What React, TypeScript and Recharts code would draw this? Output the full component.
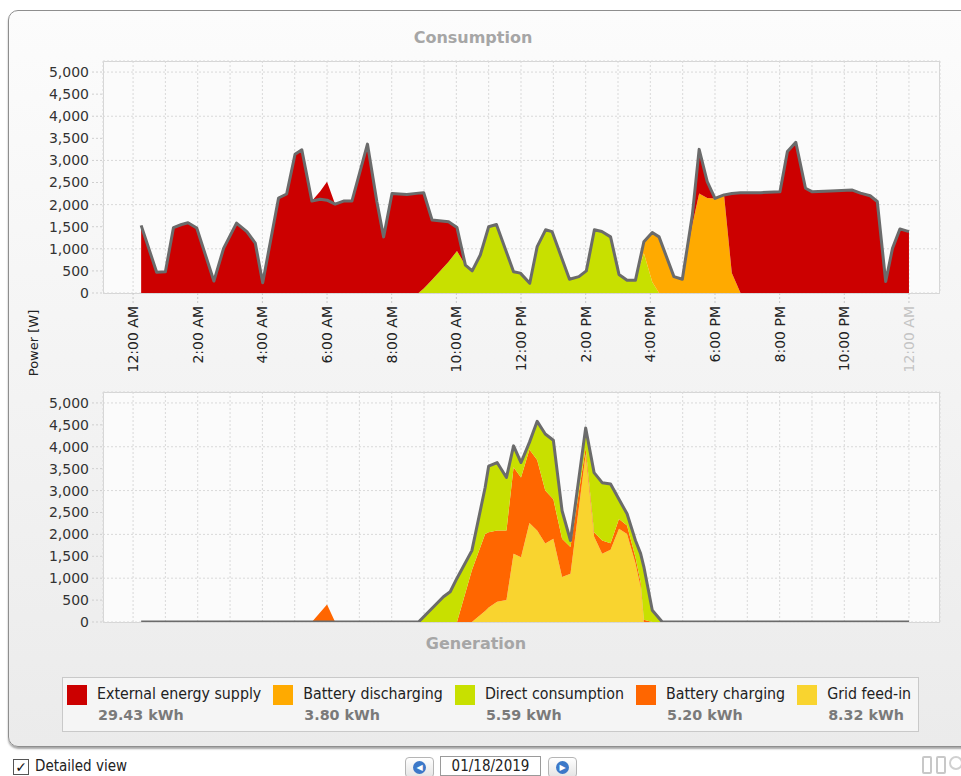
import { ComposedChart, Area, Line, XAxis, YAxis, CartesianGrid } from "recharts";

// hours of day and watt values
const consHour = [
  0.25, 0.73, 1.0, 1.25, 1.5, 1.7, 1.97, 2.5, 2.8, 3.2, 3.52, 3.78, 4.01, 4.5, 4.75, 5.01, 5.22,
  5.53, 5.79, 6.0, 6.25, 6.51, 6.77, 7.25, 7.54, 7.75, 8.01, 8.47, 8.83, 8.99, 9.25, 9.76, 10.02,
  10.28, 10.49, 10.74, 11.0, 11.24, 11.77, 11.98, 12.27, 12.5, 12.76, 12.96, 13.5, 13.79, 14.02,
  14.27, 14.5, 14.77, 15.03, 15.28, 15.54, 15.8, 16.06, 16.27, 16.73, 16.99, 17.3, 17.51, 17.76,
  18.0, 18.28, 18.52, 18.79, 19.41, 20.01, 20.24, 20.5, 20.8, 21.01, 21.58, 22.25, 22.5, 22.8,
  23.02, 23.28, 23.49, 23.72, 24.0,
];
const consTotal = [
  1530, 470, 480, 1480, 1550, 1590, 1470, 270, 1010, 1580, 1390, 1130, 230, 2150, 2240, 3140, 3240,
  2080, 2120, 2100, 2010, 2080, 2080, 3370, 2070, 1270, 2250, 2230, 2260, 2270, 1650, 1610, 1480,
  630, 500, 860, 1500, 1550, 480, 450, 220, 1050, 1430, 1390, 310, 370, 500,
  1430, 1390, 1270, 420, 290, 290, 1160, 1370, 1270, 370, 310, 1770, 3250, 2520,
  2140, 2220, 2250, 2270, 2270, 2290, 3200, 3410, 2370, 2290, 2310, 2330, 2260, 2200,
  2070, 260, 1010, 1450, 1390,
];
const consDirect = [
  0, 0, 0, 0, 0, 0, 0, 0, 0, 0, 0, 0, 0, 0, 0, 0, 0,
  0, 0, 0, 0, 0, 0, 0, 0, 0, 0, 0, 0, 100, 300, 710, 950,
  630, 500, 860, 1500, 1550, 480, 450, 220, 1050, 1430, 1390, 310, 370, 500,
  1430, 1390, 1270, 420, 290, 290, 900, 250, 0, 0, 0, 0, 0, 0,
  0, 0, 0, 0, 0, 0, 0, 0, 0, 0, 0, 0, 0, 0,
  0, 0, 0, 0, 0,
];
const consDischarge = [
  0, 0, 0, 0, 0, 0, 0, 0, 0, 0, 0, 0, 0, 0, 0, 0, 0,
  0, 0, 0, 0, 0, 0, 0, 0, 0, 0, 0, 0, 0, 0, 0, 0,
  0, 0, 0, 0, 0, 0, 0, 0, 0, 0, 0, 0, 0, 0,
  0, 0, 0, 0, 0, 0, 260, 1120, 1270, 370, 310, 1550, 2250, 2150,
  2140, 2220, 450, 0, 0, 0, 0, 0, 0, 0, 0, 0, 0, 0,
  0, 0, 0, 0, 0,
];
const consExternal = [
  1530, 470, 480, 1480, 1550, 1590, 1470, 270, 1010, 1580, 1390, 1130, 230, 2150, 2240, 3140, 3240,
  2080, 2300, 2520, 2010, 2080, 2080, 3370, 2070, 1270, 2250, 2230, 2260, 2170, 1350, 900, 530,
  0, 0, 0, 0, 0, 0, 0, 0, 0, 0, 0, 0, 0, 0,
  0, 0, 0, 0, 0, 0, 0, 0, 0, 0, 0, 220, 1000, 370,
  0, 0, 1800, 2270, 2270, 2290, 3200, 3410, 2370, 2290, 2310, 2330, 2260, 2200,
  2070, 260, 1010, 1450, 1390,
];

// generation chart
const genHour = [
  0.25, 5.53, 6.0, 6.25, 8.83, 9.6, 9.81, 10.02, 10.48, 10.89, 11.0, 11.26, 11.55, 11.77, 12.0,
  12.26, 12.5, 12.75, 13.0, 13.27, 13.53, 14.0, 14.26, 14.51, 14.77, 15.03, 15.28, 15.54, 15.7,
  15.8, 16.06, 16.37, 24.0,
];
const genTotal = [
  0, 0, 0, 0, 0, 575, 690, 1000, 1630, 3070, 3560, 3640, 3300, 4020, 3640,
  4100, 4580, 4290, 4150, 2540, 1860, 4430, 3410, 3180, 3150, 2800, 2470, 1860, 1560,
  1260, 270, 0, 0,
];
const genDirect = [
  0, 0, 0, 0, 0, 575, 690, 1000, 450, 1060, 1510, 1550, 1210, 490, 340,
  160, 880, 1290, 1350, 640, 150, 450, 1360, 1320, 1350, 450, 270, 380, 660,
  1210, 270, 0, 0,
];
const genCharge = [
  0, 0, 400, 0, 0, 0, 0, 0, 1180, 1760, 1720, 1630, 1590, 1970, 1820,
  1680, 1610, 1210, 900, 870, 610, 150, 100, 300, 150, 220, 190, 140, 100,
  50, 0, 0, 0,
];
const genFeedIn = [
  0, 0, 0, 0, 0, 0, 0, 0, 0, 250, 330, 460, 500, 1560, 1480,
  2260, 2090, 1790, 1900, 1030, 1100, 3830, 1950, 1560, 1650, 2130, 2010, 1340, 800,
  0, 0, 0, 0,
];

const hourTicks = [0, 1, 2, 3, 4, 5, 6, 7, 8, 9, 10, 11, 12, 13, 14, 15, 16, 17, 18, 19, 20, 21, 22, 23, 24];
const timeLabels = [
  "12:00 AM", "2:00 AM", "4:00 AM", "6:00 AM", "8:00 AM", "10:00 AM", "12:00 PM",
  "2:00 PM", "4:00 PM", "6:00 PM", "8:00 PM", "10:00 PM", "12:00 AM",
];
const powerTicks = [0, 500, 1000, 1500, 2000, 2500, 3000, 3500, 4000, 4500, 5000];

const legendNames = ["External energy supply", "Battery discharging", "Direct consumption", "Battery charging", "Grid feed-in"];
const legendTotals = ["29.43 kWh", "3.80 kWh", "5.59 kWh", "5.20 kWh", "8.32 kWh"];
const legendColors = ["#cc0000", "#ffaa00", "#c8e000", "#ff6600", "#f9d42f"];

const consData = consHour.map((h, i) => ({
  h,
  total: consTotal[i],
  direct: consDirect[i],
  discharge: consDischarge[i],
  external: consExternal[i],
}));
const genData = genHour.map((h, i) => ({
  h,
  total: genTotal[i],
  direct: genDirect[i],
  charge: genCharge[i],
  feed: genFeedIn[i],
}));

const FONT = "'DejaVu Sans', Verdana, sans-serif";
const NARROW = "'DejaVu Sans Condensed', 'DejaVu Sans', sans-serif";
const X_DOMAIN: [number, number] = [-0.93, 24.96];
const Y_DOMAIN: [number, number] = [0, 5250];

function HourTick({ x, y, payload }: any) {
  const h = payload.value;
  if (h % 2 !== 0) return null;
  const ty = y + 13;
  return (
    <g>
      <line x1={x} x2={x} y1={y} y2={y + 10} stroke="#c8c8c8" strokeDasharray="2 2" />
      <text
        x={x}
        y={ty}
        dy="0.35em"
        transform={`rotate(-90 ${x} ${ty})`}
        textAnchor="end"
        fontSize={14}
        fill={h === 24 ? "#c4c4c4" : "#222"}
      >
        {timeLabels[h / 2]}
      </text>
    </g>
  );
}

function powerAxis() {
  return (
    <YAxis
      type="number"
      domain={Y_DOMAIN}
      ticks={powerTicks}
      width={103}
      axisLine={false}
      tickSize={11}
      tickMargin={3}
      tickLine={{ stroke: "#cfcfcf", strokeDasharray: "2 2" }}
      tick={{ fontSize: 14, fill: "#333" }}
      tickFormatter={(v: number) => v.toLocaleString("en-US")}
      allowDataOverflow
    />
  );
}

const plotFrame = {
  position: "absolute" as const,
  left: 103,
  width: 837,
  border: "1px solid #d6d6d6",
  background: "#fbfbfb",
  boxSizing: "border-box" as const,
};

export default function App() {
  return (
    <div
      style={{
        position: "absolute",
        left: 0,
        top: 0,
        width: 961,
        height: 776,
        overflow: "hidden",
        background: "#fff",
        fontFamily: FONT,
      }}
    >
      <div
        style={{
          position: "absolute",
          left: 8,
          top: 10,
          width: 1000,
          height: 735,
          borderRadius: 10,
          border: "1px solid #8e8e8e",
          background: "linear-gradient(#fcfcfc, #ebebeb)",
          boxShadow: "0 2px 2px rgba(0,0,0,0.35)",
        }}
      />
      <div style={{ ...plotFrame, top: 61, height: 233 }} />
      <div style={{ ...plotFrame, top: 392, height: 231 }} />

      <div style={{ position: "absolute", left: 373, top: 28, width: 200, textAlign: "center", fontSize: 16, fontWeight: "bold", color: "#a6a6a6" }}>
        Consumption
      </div>
      <div style={{ position: "absolute", left: 376, top: 634, width: 200, textAlign: "center", fontSize: 16, fontWeight: "bold", color: "#a6a6a6" }}>
        Generation
      </div>
      <div
        style={{
          position: "absolute",
          left: 33,
          top: 343,
          transform: "translate(-50%, -50%) rotate(-90deg)",
          fontSize: 13,
          color: "#222",
          whiteSpace: "nowrap",
        }}
      >
        Power [W]
      </div>

      <div style={{ position: "absolute", left: 0, top: 0 }}>
        <ComposedChart width={961} height={380} data={consData} margin={{ top: 61, right: 21, bottom: 2, left: 0 }}>
          <CartesianGrid stroke="#d9d9d9" strokeDasharray="2 2" />
          <XAxis
            dataKey="h"
            type="number"
            domain={X_DOMAIN}
            ticks={hourTicks}
            height={85}
            axisLine={false}
            tickLine={false}
            tickSize={0}
            tickMargin={0}
            tick={<HourTick />}
            interval={0}
            allowDataOverflow
          />
          {powerAxis()}
          <Area type="linear" dataKey="direct" stackId="c" fill="#c8e000" fillOpacity={1} stroke="none" isAnimationActive={false} />
          <Area type="linear" dataKey="discharge" stackId="c" fill="#ffaa00" fillOpacity={1} stroke="none" isAnimationActive={false} />
          <Area type="linear" dataKey="external" stackId="c" fill="#cc0000" fillOpacity={1} stroke="none" isAnimationActive={false} />
          <Line type="linear" dataKey="total" stroke="#6b6b6b" strokeWidth={3} dot={false} strokeLinejoin="round" isAnimationActive={false} />
        </ComposedChart>
      </div>

      <div style={{ position: "absolute", left: 0, top: 380 }}>
        <ComposedChart width={961} height={250} data={genData} margin={{ top: 12, right: 21, bottom: 8, left: 0 }}>
          <CartesianGrid stroke="#d9d9d9" strokeDasharray="2 2" />
          <XAxis dataKey="h" type="number" domain={X_DOMAIN} ticks={hourTicks} hide allowDataOverflow />
          {powerAxis()}
          <Area type="linear" dataKey="feed" stackId="g" fill="#f9d42f" fillOpacity={1} stroke="none" isAnimationActive={false} />
          <Area type="linear" dataKey="charge" stackId="g" fill="#ff6600" fillOpacity={1} stroke="none" isAnimationActive={false} />
          <Area type="linear" dataKey="direct" stackId="g" fill="#c8e000" fillOpacity={1} stroke="none" isAnimationActive={false} />
          <Line type="linear" dataKey="total" stroke="#6b6b6b" strokeWidth={3} dot={false} strokeLinejoin="round" isAnimationActive={false} />
        </ComposedChart>
      </div>

      <div
        style={{
          position: "absolute",
          left: 62,
          top: 677,
          width: 857,
          height: 55,
          border: "1px solid #c9c9c9",
          background: "#f5f5f5",
          boxSizing: "border-box",
          display: "flex",
          paddingLeft: 4,
          paddingTop: 6,
          whiteSpace: "nowrap",
          overflow: "hidden",
        }}
      >
        {legendNames.map((name, i) => (
          <div key={name} style={{ display: "flex", marginRight: 12, flexShrink: 0 }}>
            <div style={{ width: 20, height: 20, background: legendColors[i], marginRight: 10, marginTop: 1 }} />
            <div>
              <div style={{ fontSize: 15.8, color: "#222", lineHeight: "20px", fontFamily: NARROW }}>{name}</div>
              <div style={{ fontSize: 14.3, fontWeight: "bold", color: "#7a7a7a", lineHeight: "22px", paddingLeft: 1 }}>{legendTotals[i]}</div>
            </div>
          </div>
        ))}
      </div>

      <div style={{ position: "absolute", left: 13, top: 759, width: 14, height: 14, border: "1px solid #555", background: "#fff", fontSize: 14, lineHeight: "14px", textAlign: "center", color: "#111" }}>
        ✓
      </div>
      <div style={{ position: "absolute", left: 35, top: 757, fontSize: 15, lineHeight: "18px", color: "#222", fontFamily: NARROW }}>
        Detailed view
      </div>

      <div style={{ position: "absolute", left: 405, top: 757, width: 27, height: 19, border: "1px solid #b5b5b5", borderRadius: 4, background: "linear-gradient(#fff, #e4e4e4)" }}>
        <div style={{ margin: "3px auto", width: 13, height: 13, borderRadius: 7, background: "#3c78c8", color: "#fff", fontSize: 8, lineHeight: "13px", textAlign: "center" }}>◀</div>
      </div>
      <div style={{ position: "absolute", left: 440, top: 756, width: 101, height: 20, border: "1px solid #9a9a9a", background: "#fff", boxSizing: "border-box", fontSize: 15, textAlign: "center", lineHeight: "18px", color: "#222", fontFamily: NARROW }}>
        01/18/2019
      </div>
      <div style={{ position: "absolute", left: 548, top: 757, width: 27, height: 19, border: "1px solid #b5b5b5", borderRadius: 4, background: "linear-gradient(#fff, #e4e4e4)" }}>
        <div style={{ margin: "3px auto", width: 13, height: 13, borderRadius: 7, background: "#3c78c8", color: "#fff", fontSize: 8, lineHeight: "13px", textAlign: "center" }}>▶</div>
      </div>

      <div style={{ position: "absolute", left: 922, top: 756, width: 10, height: 18, border: "2px solid #c8c8c8", borderRadius: 2, boxSizing: "border-box" }} />
      <div style={{ position: "absolute", left: 936, top: 756, width: 10, height: 18, border: "2px solid #c8c8c8", borderRadius: 2, boxSizing: "border-box" }} />
      <div style={{ position: "absolute", left: 949, top: 756, width: 14, height: 14, border: "2px solid #d0d0d0", borderRadius: 7, boxSizing: "border-box" }} />
    </div>
  );
}
